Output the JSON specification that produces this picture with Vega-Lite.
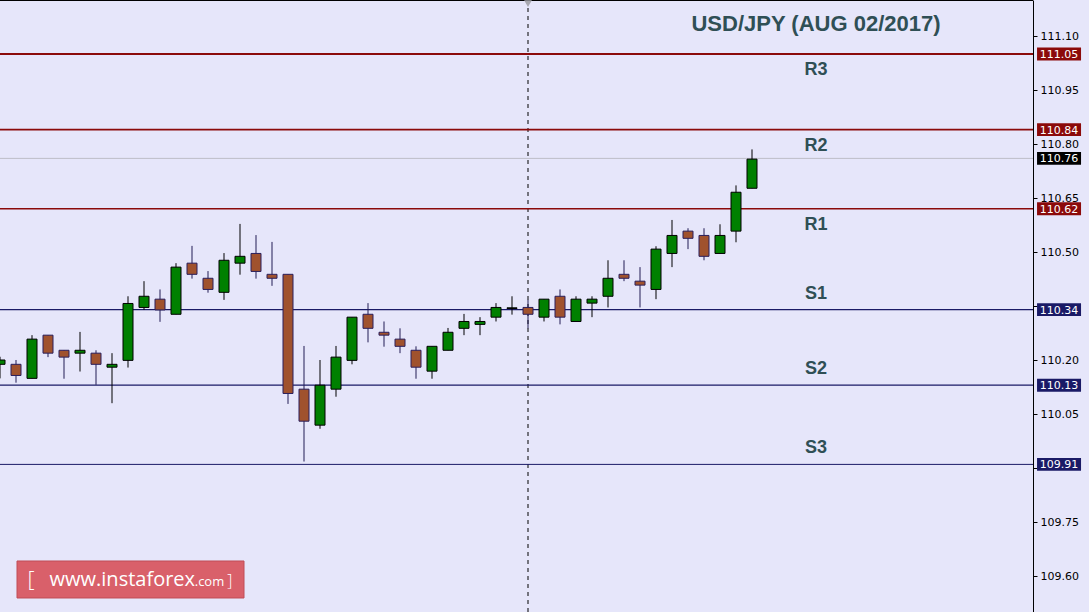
{
  "$schema": "https://vega.github.io/schema/vega-lite/v6.json",
  "width": 1033,
  "height": 612,
  "autosize": {"type": "none"},
  "padding": {"left": 0, "top": 0, "right": 56, "bottom": 0},
  "background": "#E6E6FA",
  "config": {"view": {"stroke": null}},
  "data": {"values": [{}]},
  "datasets": {
    "candles": [
      {"i": 0, "o": 110.188, "h": 110.209, "l": 110.149, "c": 110.2},
      {"i": 1, "o": 110.188, "h": 110.2, "l": 110.137, "c": 110.157},
      {"i": 2, "o": 110.149, "h": 110.269, "l": 110.149, "c": 110.258},
      {"i": 3, "o": 110.269, "h": 110.269, "l": 110.208, "c": 110.219},
      {"i": 4, "o": 110.227, "h": 110.227, "l": 110.148, "c": 110.208},
      {"i": 5, "o": 110.219, "h": 110.278, "l": 110.168, "c": 110.227},
      {"i": 6, "o": 110.219, "h": 110.227, "l": 110.131, "c": 110.188},
      {"i": 7, "o": 110.18, "h": 110.219, "l": 110.08, "c": 110.188},
      {"i": 8, "o": 110.199, "h": 110.377, "l": 110.179, "c": 110.357},
      {"i": 9, "o": 110.346, "h": 110.419, "l": 110.339, "c": 110.377},
      {"i": 10, "o": 110.369, "h": 110.396, "l": 110.306, "c": 110.339},
      {"i": 11, "o": 110.327, "h": 110.469, "l": 110.327, "c": 110.458},
      {"i": 12, "o": 110.469, "h": 110.517, "l": 110.426, "c": 110.438},
      {"i": 13, "o": 110.427, "h": 110.447, "l": 110.387, "c": 110.396},
      {"i": 14, "o": 110.388, "h": 110.497, "l": 110.367, "c": 110.477},
      {"i": 15, "o": 110.469, "h": 110.578, "l": 110.437, "c": 110.488},
      {"i": 16, "o": 110.496, "h": 110.547, "l": 110.426, "c": 110.446},
      {"i": 17, "o": 110.438, "h": 110.528, "l": 110.406, "c": 110.427},
      {"i": 18, "o": 110.438, "h": 110.438, "l": 110.078, "c": 110.107},
      {"i": 19, "o": 110.119, "h": 110.239, "l": 109.918, "c": 110.03},
      {"i": 20, "o": 110.019, "h": 110.2, "l": 110.009, "c": 110.13},
      {"i": 21, "o": 110.119, "h": 110.239, "l": 110.098, "c": 110.208},
      {"i": 22, "o": 110.199, "h": 110.319, "l": 110.188, "c": 110.319},
      {"i": 23, "o": 110.327, "h": 110.358, "l": 110.249, "c": 110.288},
      {"i": 24, "o": 110.277, "h": 110.307, "l": 110.237, "c": 110.269},
      {"i": 25, "o": 110.258, "h": 110.288, "l": 110.219, "c": 110.238},
      {"i": 26, "o": 110.227, "h": 110.238, "l": 110.148, "c": 110.18},
      {"i": 27, "o": 110.169, "h": 110.238, "l": 110.148, "c": 110.238},
      {"i": 28, "o": 110.227, "h": 110.289, "l": 110.227, "c": 110.277},
      {"i": 29, "o": 110.288, "h": 110.328, "l": 110.269, "c": 110.307},
      {"i": 30, "o": 110.299, "h": 110.319, "l": 110.269, "c": 110.307},
      {"i": 31, "o": 110.319, "h": 110.358, "l": 110.307, "c": 110.346},
      {"i": 32, "o": 110.343, "h": 110.377, "l": 110.326, "c": 110.345},
      {"i": 33, "o": 110.346, "h": 110.367, "l": 110.288, "c": 110.327},
      {"i": 34, "o": 110.319, "h": 110.369, "l": 110.307, "c": 110.369},
      {"i": 35, "o": 110.377, "h": 110.396, "l": 110.299, "c": 110.319},
      {"i": 36, "o": 110.307, "h": 110.377, "l": 110.307, "c": 110.369},
      {"i": 37, "o": 110.358, "h": 110.377, "l": 110.319, "c": 110.369},
      {"i": 38, "o": 110.377, "h": 110.477, "l": 110.346, "c": 110.427},
      {"i": 39, "o": 110.438, "h": 110.477, "l": 110.419, "c": 110.427},
      {"i": 40, "o": 110.419, "h": 110.458, "l": 110.346, "c": 110.408},
      {"i": 41, "o": 110.396, "h": 110.516, "l": 110.369, "c": 110.508},
      {"i": 42, "o": 110.496, "h": 110.589, "l": 110.458, "c": 110.546},
      {"i": 43, "o": 110.558, "h": 110.566, "l": 110.508, "c": 110.538},
      {"i": 44, "o": 110.546, "h": 110.566, "l": 110.477, "c": 110.488},
      {"i": 45, "o": 110.496, "h": 110.577, "l": 110.496, "c": 110.546},
      {"i": 46, "o": 110.558, "h": 110.685, "l": 110.527, "c": 110.666},
      {"i": 47, "o": 110.677, "h": 110.785, "l": 110.677, "c": 110.758}
    ],
    "levels": [
      {"name": "R3", "price": 111.05, "kind": "R"},
      {"name": "R2", "price": 110.84, "kind": "R"},
      {"name": "R1", "price": 110.62, "kind": "R"},
      {"name": "S1", "price": 110.34, "kind": "S"},
      {"name": "S2", "price": 110.13, "kind": "S"},
      {"name": "S3", "price": 109.91, "kind": "S"}
    ],
    "tags": [
      {"name": "R3", "price": 111.05, "kind": "R"},
      {"name": "R2", "price": 110.84, "kind": "R"},
      {"name": "R1", "price": 110.62, "kind": "R"},
      {"name": "S1", "price": 110.34, "kind": "S"},
      {"name": "S2", "price": 110.13, "kind": "S"},
      {"name": "S3", "price": 109.91, "kind": "S"},
      {"name": "Close", "price": 110.76, "kind": "P"}
    ]
  },
  "encoding": {
    "y": {
      "type": "quantitative",
      "scale": {"domain": [109.5, 111.2], "nice": false, "zero": false, "padding": 0}
    }
  },
  "layer": [
    {
      "mark": {"type": "rule", "color": "#000000", "strokeWidth": 1, "strokeDash": [4, 4]},
      "encoding": {
        "x": {"datum": 33, "type": "quantitative", "scale": {"domain": [0, 64.5625], "nice": false, "zero": false, "padding": 0}, "axis": null}
      }
    },
    {
      "data": {"name": "levels"},
      "mark": {"type": "rule"},
      "encoding": {
        "y": {"field": "price", "type": "quantitative", "axis": {
          "orient": "right",
          "values": [109.6, 109.75, 109.9, 110.05, 110.2, 110.35, 110.5, 110.65, 110.8, 110.95, 111.1],
          "format": ".2f",
          "labelExpr": "abs(datum.value - 110.35) < 0.001 || abs(datum.value - 109.9) < 0.001 ? '' : datum.label",
          "title": null,
          "grid": false,
          "domainColor": "#000000",
          "domainWidth": 1,
          "tickColor": "#000000",
          "tickSize": 4,
          "labelFont": "DejaVu Sans",
          "labelFontSize": 11,
          "labelColor": "#000000",
          "labelPadding": 3,
          "labelFlush": false,
          "labelOverlap": false
        }},
        "color": {"field": "kind", "type": "nominal", "scale": {"domain": ["R", "S", "P"], "range": ["#8B0A0A", "#1A1A66", "#000000"]}, "legend": null},
        "strokeWidth": {"field": "name", "type": "nominal", "scale": {"domain": ["R3", "R2", "R1", "S1", "S2", "S3"], "range": [2, 1, 1, 1, 1, 2]}, "legend": null}
      }
    },
    {
      "mark": {"type": "rule", "color": "#BDBDC8", "strokeWidth": 1},
      "encoding": {"y": {"datum": 110.76, "type": "quantitative"}}
    },
    {
      "data": {"name": "candles"},
      "mark": {"type": "rule", "strokeWidth": 1},
      "encoding": {
        "x": {"field": "i", "type": "quantitative", "scale": {"domain": [0, 64.5625], "nice": false, "zero": false, "padding": 0}, "axis": null},
        "y": {"field": "l", "type": "quantitative"},
        "y2": {"field": "h"},
        "color": {"condition": {"test": "datum.c >= datum.o", "value": "#000000"}, "value": "#221C55"}
      }
    },
    {
      "data": {"name": "candles"},
      "mark": {"type": "bar", "size": 10, "strokeWidth": 1},
      "encoding": {
        "x": {"field": "i", "type": "quantitative", "scale": {"domain": [0, 64.5625], "nice": false, "zero": false, "padding": 0}, "axis": null},
        "y": {"field": "o", "type": "quantitative"},
        "y2": {"field": "c"},
        "fill": {"condition": {"test": "datum.c >= datum.o", "value": "#008000"}, "value": "#A0522D"},
        "stroke": {"condition": {"test": "datum.c >= datum.o", "value": "#000000"}, "value": "#2A1F5C"}
      }
    },
    {
      "data": {"name": "levels"},
      "transform": [{"filter": "datum.kind == 'R'"}],
      "mark": {"type": "text", "font": "Liberation Sans", "fontWeight": "bold", "fontSize": 18, "color": "#2F4F55", "align": "center", "baseline": "middle", "dy": 16},
      "encoding": {
        "x": {"datum": 51, "type": "quantitative"},
        "y": {"field": "price", "type": "quantitative"},
        "text": {"field": "name"}
      }
    },
    {
      "data": {"name": "levels"},
      "transform": [{"filter": "datum.kind == 'S'"}],
      "mark": {"type": "text", "font": "Liberation Sans", "fontWeight": "bold", "fontSize": 18, "color": "#2F4F55", "align": "center", "baseline": "middle", "dy": -16},
      "encoding": {
        "x": {"datum": 51, "type": "quantitative"},
        "y": {"field": "price", "type": "quantitative"},
        "text": {"field": "name"}
      }
    },
    {
      "data": {"name": "tags"},
      "mark": {"type": "point", "shape": "M-1.6,-0.47H1.6V0.47H-1.6Z", "size": 756, "filled": true, "opacity": 1, "strokeWidth": 0},
      "encoding": {
        "x": {"datum": 66.19, "type": "quantitative"},
        "y": {"field": "price", "type": "quantitative"},
        "color": {"field": "kind", "type": "nominal", "scale": {"domain": ["R", "S", "P"], "range": ["#7E0C0C", "#1E1E6E", "#000000"]}, "legend": null}
      }
    },
    {
      "data": {"name": "tags"},
      "mark": {"type": "text", "font": "DejaVu Sans", "fontSize": 11, "color": "#FFFFFF", "align": "center", "baseline": "middle", "dy": 1},
      "encoding": {
        "x": {"datum": 66.19, "type": "quantitative"},
        "y": {"field": "price", "type": "quantitative"},
        "text": {"field": "price", "format": ".2f"}
      }
    },
    {
      "mark": {"type": "text", "font": "Liberation Sans", "fontWeight": "bold", "fontSize": 22, "color": "#2F4F55", "align": "center", "baseline": "middle", "text": "USD/JPY (AUG 02/2017)"},
      "encoding": {
        "x": {"datum": 51, "type": "quantitative"},
        "y": {"datum": 111.133, "type": "quantitative"}
      }
    },
    {
      "mark": {"type": "rect", "color": "#D9606A", "stroke": "#C04C57", "strokeWidth": 1},
      "encoding": {
        "x": {"datum": 1.0625, "type": "quantitative"},
        "x2": {"datum": 15.25},
        "y": {"datum": 109.6417, "type": "quantitative"},
        "y2": {"datum": 109.5389}
      }
    },
    {
      "mark": {"type": "text", "font": "Open Sans", "fontSize": 20, "color": "#FFFFFF", "align": "right", "baseline": "alphabetic", "text": "www.instaforex"},
      "encoding": {
        "x": {"datum": 12.19, "type": "quantitative"},
        "y": {"datum": 109.572, "type": "quantitative"}
      }
    },
    {
      "mark": {"type": "text", "font": "Open Sans", "fontSize": 13, "color": "#FFFFFF", "align": "left", "baseline": "alphabetic", "text": ".com"},
      "encoding": {
        "x": {"datum": 12.17, "type": "quantitative"},
        "y": {"datum": 109.572, "type": "quantitative"}
      }
    },
    {
      "mark": {"type": "text", "font": "Open Sans", "fontSize": 22, "fontWeight": "300", "color": "#FFFFFF", "align": "center", "baseline": "alphabetic", "text": "["},
      "encoding": {
        "x": {"datum": 1.94, "type": "quantitative"},
        "y": {"datum": 109.57, "type": "quantitative"}
      }
    },
    {
      "mark": {"type": "text", "font": "Open Sans", "fontSize": 16, "fontWeight": "300", "color": "#FFFFFF", "align": "center", "baseline": "alphabetic", "text": "]"},
      "encoding": {
        "x": {"datum": 14.36, "type": "quantitative"},
        "y": {"datum": 109.572, "type": "quantitative"}
      }
    },
    {
      "mark": {"type": "rule", "color": "#000000", "strokeWidth": 2},
      "encoding": {"y": {"datum": 111.2, "type": "quantitative"}}
    },
    {
      "mark": {"type": "point", "shape": "triangle-down", "size": 60, "filled": true, "opacity": 1, "color": "#A8A8B0"},
      "encoding": {
        "x": {"datum": 33, "type": "quantitative"},
        "y": {"datum": 111.19, "type": "quantitative"}
      }
    }
  ]
}
